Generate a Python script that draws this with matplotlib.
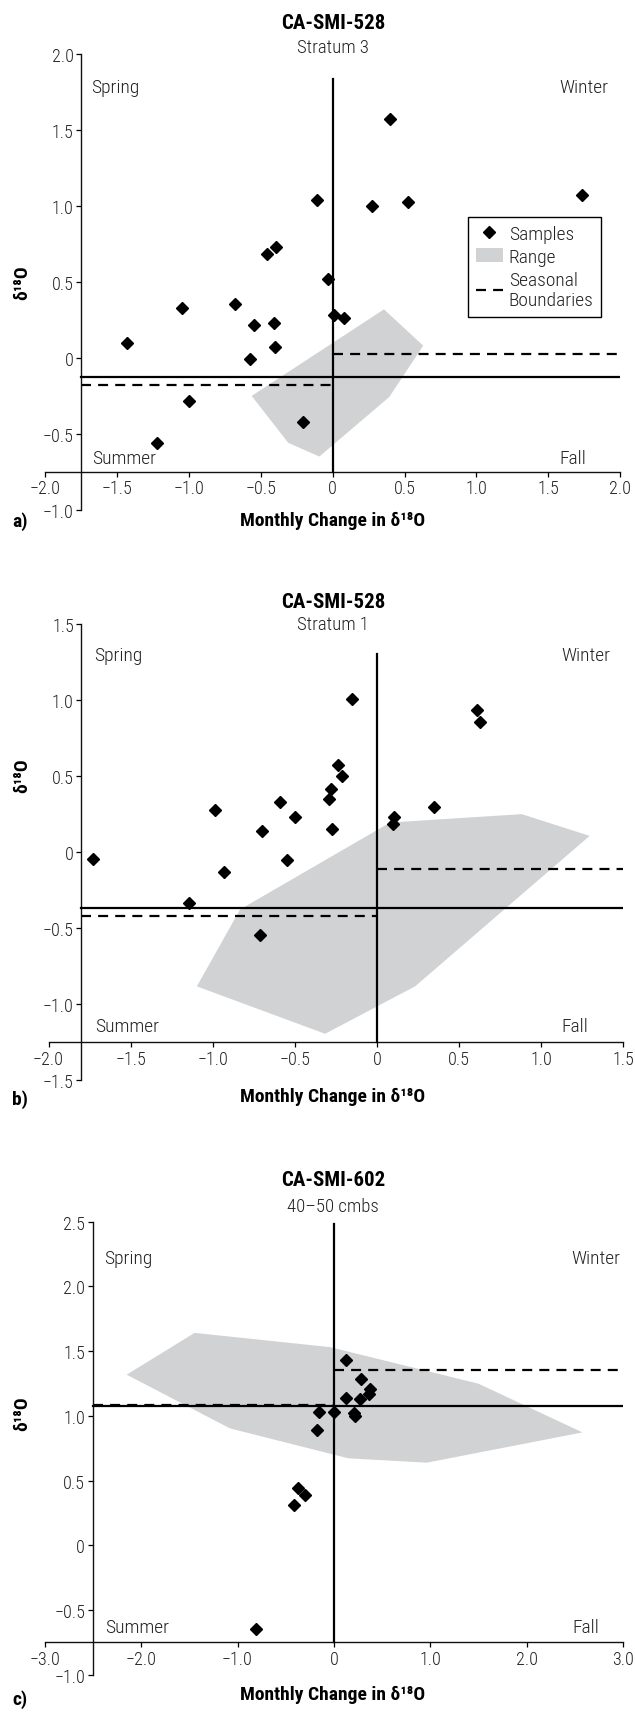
import numpy as np
import matplotlib
matplotlib.use("Agg")
import matplotlib.pyplot as plt
from matplotlib.lines import Line2D
from matplotlib.patches import Patch

plt.rcParams['font.family'] = ['Roboto Condensed', 'Liberation Sans Narrow', 'Liberation Sans', 'DejaVu Sans']

##############################################################################
""" DATA """
# a) CA-SMI-528, Stratum 3
a_dx = [0.40, -0.107, 0.273, 0.524, 1.735, -0.454, -0.397, -0.031, -1.046, -0.680,
        -0.547, -0.412, -0.403, -0.575, -1.43, 0.008, 0.081, -1.00, -0.206, -1.22]
a_d18o = [1.575, 1.04, 0.998, 1.026, 1.073, 0.685, 0.729, 0.517, 0.330, 0.354,
          0.213, 0.227, 0.068, -0.005, 0.097, 0.28, 0.264, -0.287, -0.423, -0.564]
a_range_x = [-0.564, 0.357, 0.63, 0.394, -0.093, -0.309]
a_range_y = [-0.251, 0.319, 0.08, -0.258, -0.650, -0.560]
a_mean, a_bound_lo, a_bound_hi = -0.126, -0.176, 0.022

# b) CA-SMI-528, Stratum 1
b_dx = [-0.155, 0.609, 0.629, -0.239, -0.215, -0.279, -0.291, -0.984, -0.592, -0.498,
        0.348, 0.106, 0.099, -0.276, -0.701, -1.727, -0.548, -0.93, -1.142, -0.711]
b_d18o = [1.007, 0.935, 0.853, 0.572, 0.501, 0.414, 0.348, 0.275, 0.326, 0.231,
          0.293, 0.233, 0.187, 0.154, 0.139, -0.048, -0.05, -0.129, -0.334, -0.543]
b_range_x = [-1.097, -0.834, 0.080, 0.882, 1.295, 0.232, -0.316]
b_range_y = [-0.884, -0.378, 0.194, 0.249, 0.106, -0.884, -1.196]
b_mean, b_bound_lo, b_bound_hi = -0.367, -0.424, -0.110

# c) CA-SMI-602, 40-50 cmbs
c_dx = [0.13, 0.277, 0.373, 0.361, 0.121, 0.269, -0.151, 0.004, 0.206, 0.214,
        -0.177, -0.374, -0.303, -0.416, -0.807]
c_d18o = [1.428, 1.282, 1.211, 1.167, 1.141, 1.128, 1.028, 1.028, 1.023, 0.997,
          0.89, 0.441, 0.39, 0.313, -0.648]
c_range_x = [-2.149, -1.445, -0.041, 1.496, 2.577, 0.961, 0.148, -1.078]
c_range_y = [1.318, 1.641, 1.531, 1.249, 0.872, 0.638, 0.672, 0.903]
c_mean, c_bound_lo, c_bound_hi = 1.075, 1.085, 1.357

x_ticks_ab = [-2.0, -1.5, -1.0, -0.5, 0, 0.5, 1.0, 1.5, 2.0]
x_ticks_c = [-3.0, -2.0, -1.0, 0, 1.0, 2.0, 3.0]

##############################################################################
""" FUNCTIONS """
RANGE_COLOR = '#d1d2d4'
TXT = '#222222'
DASH = (0, (4.5, 3.2))
W, H = 635, 1715


def fmt(v):
    if v == 0:
        return "0"
    return f"{v:.1f}".replace("-", "\u2212")


def panel(rect, xlim, ylim, yspine_x, xspine_y, xticks, yticks,
          dx, d18o, rx, ry, mean, lo, hi, vtop, seasons):
    ax = fig.add_axes(rect)
    ax.set_xlim(*xlim)
    ax.set_ylim(*ylim)
    ax.patch.set_visible(False)

    ax.fill(rx, ry, color=RANGE_COLOR, lw=0, zorder=1)

    # quadrant lines
    ax.plot([0, 0], [xspine_y, vtop], color='black', lw=1.6, zorder=3)
    ax.plot([yspine_x, 0], [lo, lo], color='black', lw=1.6, ls=DASH, zorder=2)
    ax.plot([0, xlim[1]], [hi, hi], color='black', lw=1.6, ls=DASH, zorder=2)
    ax.plot([yspine_x, xlim[1]], [mean, mean], color='black', lw=1.6, zorder=3)

    ax.plot(dx, d18o, ls='none', marker='D', ms=6.2, color='black', zorder=4, clip_on=False)

    for spine in ["top", "right"]:
        ax.spines[spine].set_visible(False)
    ax.spines['left'].set_position(('data', yspine_x))
    ax.spines['left'].set_bounds(ylim[0], ylim[1])
    ax.spines['bottom'].set_position(('data', xspine_y))
    ax.spines['bottom'].set_bounds(xlim[0], xlim[1])
    for s in ['left', 'bottom']:
        ax.spines[s].set_linewidth(1.0)
        ax.spines[s].set_color('#111111')

    ax.set_xticks(xticks)
    ax.set_xticklabels([fmt(v) for v in xticks], fontweight='light')
    ax.set_yticks(yticks)
    ax.set_yticklabels([fmt(v) for v in yticks], fontweight='light')
    ax.tick_params(direction='out', length=3.5, width=0.9, labelsize=13,
                   labelcolor=TXT, pad=2)

    kw = dict(fontsize=14, color=TXT, va='center', fontweight='light')
    ax.text(seasons[0], seasons[4], "Spring", ha='left', **kw)
    ax.text(seasons[1], seasons[4], "Winter", ha='right', **kw)
    ax.text(seasons[2], seasons[5], "Summer", ha='left', **kw)
    ax.text(seasons[3], seasons[5], "Fall", ha='right', **kw)
    return ax


def ftext(xpx, ypx, s, **kw):
    fig.text(xpx / W, 1 - ypx / H, s, **kw)


##############################################################################
""" FIGURE """
fig = plt.figure(figsize=(6.35, 17.15), dpi=100)

ax_a = panel([45.4 / W, 1 - 510.7 / H, 574.6 / W, 455.7 / H], (-2, 2), (-1, 2), -1.75, -0.75,
             x_ticks_ab, [-1.0, -0.5, 0, 0.5, 1.0, 1.5, 2.0],
             a_dx, a_d18o, a_range_x, a_range_y, a_mean, a_bound_lo, a_bound_hi, 1.835,
             (-1.681, 1.916, -1.673, 1.766, 1.78, -0.661))

ax_b = panel([48.6 / W, 1 - 1081 / H, 574.7 / W, 456 / H], (-2, 1.5), (-1.5, 1.5), -1.8, -1.25,
             x_ticks_ab[:-1], [-1.5, -1.0, -0.5, 0, 0.5, 1.0, 1.5],
             b_dx, b_d18o, b_range_x, b_range_y, b_mean, b_bound_lo, b_bound_hi, 1.30,
             (-1.724, 1.419, -1.716, 1.287, 1.293, -1.148))

ax_c = panel([44.6 / W, 1 - 1675.7 / H, 578.7 / W, 453 / H], (-3, 3), (-1, 2.5), -2.5, -0.75,
             x_ticks_c, [-1.0, -0.5, 0, 0.5, 1.0, 1.5, 2.0, 2.5],
             c_dx, c_d18o, c_range_x, c_range_y, c_mean, c_bound_lo, c_bound_hi, 2.48,
             (-2.378, 2.974, -2.370, 2.748, 2.218, -0.628))

# titles, axis labels, panel letters
titles = [("CA-SMI-528", "Stratum 3", 23.5, 48, 283, 521, "a)", 522),
          ("CA-SMI-528", "Stratum 1", 603, 625, 776, 1097, "b)", 1100),
          ("CA-SMI-602", "40\u201350 cmbs", 1180, 1207, 1414, 1695, "c)", 1700)]
for t1, t2, y1, y2, yl, xl, letter, yletter in titles:
    ftext(333, y1, t1, fontsize=15, fontweight='bold', ha='center', va='center')
    ftext(333, y2, t2, fontsize=13.5, color=TXT, fontweight='light', ha='center', va='center')
    ftext(22, yl, "δ¹⁸O", fontsize=14, fontweight='bold', rotation=90, ha='center', va='center')
    ftext(333, xl, "Monthly Change in δ¹⁸O", fontsize=14, fontweight='bold', ha='center', va='center')
    ftext(12, yletter, letter, fontsize=14, fontweight='bold', ha='left', va='center')

# legend (panel a)
handles = [Line2D([], [], ls='none', marker='D', ms=6.2, color='black'),
           Patch(facecolor=RANGE_COLOR, edgecolor='none'),
           Line2D([], [], color='black', lw=1.6, ls=DASH)]
labels = ["Samples", "Range", "Seasonal\nBoundaries"]
leg = fig.legend(handles, labels, loc='upper left', bbox_to_anchor=(468 / W, 1 - 218 / H),
                 bbox_transform=fig.transFigure, borderaxespad=0, frameon=True, fancybox=False,
                 edgecolor='black', framealpha=1, fontsize=14, handlelength=1.4,
                 handletextpad=0.3, borderpad=0.4, labelspacing=0.25,
                 prop={'weight': 'light', 'size': 14})
leg.get_frame().set_linewidth(1.0)
for t in leg.get_texts():
    t.set_color(TXT)

fig.savefig("out.png", dpi=100)
